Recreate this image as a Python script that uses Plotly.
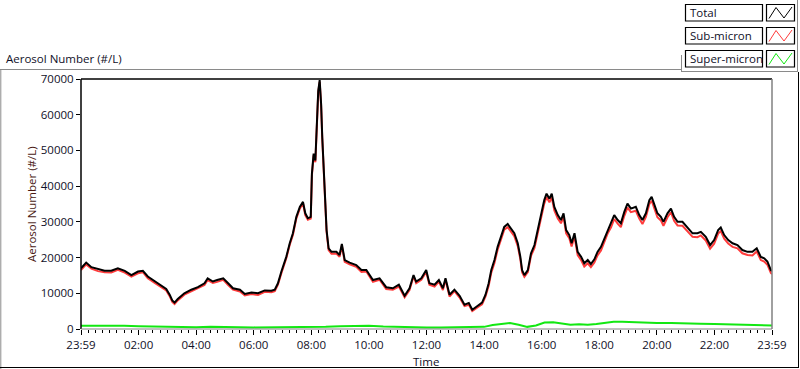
import plotly.graph_objects as go

# ---------------- data ----------------
hours = [0, 0.18, 0.36, 0.59, 0.82, 1.05, 1.28, 1.52, 1.75, 1.98, 2.15, 2.32, 2.56, 2.79, 2.96, 3.08,
         3.17, 3.25, 3.36, 3.59, 3.83, 4.06, 4.29, 4.4, 4.58, 4.73, 4.94, 5.11, 5.28, 5.52, 5.69, 5.92,
         6.15, 6.38, 6.61, 6.73, 6.84, 6.96, 7.13, 7.25, 7.36, 7.48, 7.6, 7.71, 7.79, 7.88, 7.98, 8.02,
         8.08, 8.14, 8.19, 8.24, 8.29, 8.34, 8.38, 8.43, 8.49, 8.53, 8.6, 8.7, 8.87, 8.98, 9.06, 9.16,
         9.33, 9.56, 9.74, 9.91, 10.14, 10.37, 10.6, 10.83, 11.04, 11.24, 11.41, 11.55, 11.64, 11.82,
         11.99, 12.1, 12.28, 12.43, 12.57, 12.66, 12.8, 12.97, 13.15, 13.32, 13.47, 13.59, 13.78, 13.93,
         14.05, 14.16, 14.25, 14.36, 14.47, 14.59, 14.7, 14.82, 14.94, 15.05, 15.17, 15.26, 15.32, 15.4,
         15.52, 15.63, 15.75, 15.86, 15.98, 16.09, 16.17, 16.27, 16.35, 16.44, 16.56, 16.67, 16.76,
         16.85, 16.96, 17.04, 17.14, 17.25, 17.37, 17.48, 17.6, 17.71, 17.83, 17.94, 18.06, 18.18,
         18.29, 18.41, 18.52, 18.64, 18.75, 18.87, 18.98, 19.1, 19.27, 19.39, 19.5, 19.62, 19.74, 19.82,
         19.91, 20.02, 20.14, 20.23, 20.37, 20.49, 20.6, 20.72, 20.89, 21.07, 21.24, 21.41, 21.53, 21.7,
         21.85, 21.99, 22.13, 22.22, 22.34, 22.48, 22.63, 22.8, 22.97, 23.15, 23.32, 23.47, 23.61,
         23.73, 23.84, 23.96, 24.0]

total = [17000, 18600, 17300, 16700, 16300, 16300, 17000, 16300, 15100, 16100, 16300, 14700, 13300,
         12100, 11200, 9600, 8000, 7400, 8400, 10000, 11000, 11700, 12800, 14200, 13300, 13700, 14200,
         12800, 11400, 11000, 9800, 10200, 10000, 10800, 10700, 11000, 12800, 16100, 20200, 24000, 26800,
         31400, 34200, 35600, 32400, 31000, 31400, 43500, 49100, 47200, 55600, 66700, 69700, 63000, 53700,
         44400, 37000, 27700, 22600, 21600, 21600, 20700, 23800, 19300, 18600, 17900, 16500, 16500, 13700,
         14200, 11700, 11400, 12400, 9300, 11400, 15100, 13300, 14200, 16500, 12800, 12400, 13700, 11400,
         14200, 9600, 11000, 9300, 6800, 7300, 5400, 6500, 7400, 9600, 12800, 16500, 19300, 23000, 25800,
         28600, 29400, 28200, 26800, 24000, 20200, 16500, 15100, 16500, 21200, 23500, 27700, 32400, 36100,
         37900, 36500, 37900, 34200, 31900, 30500, 32400, 27700, 26300, 24000, 26800, 21600, 20200, 18400,
         19300, 18200, 19500, 21600, 23000, 25400, 27700, 29600, 31900, 30500, 29600, 32800, 35100, 33700,
         34200, 31900, 30500, 32400, 36100, 37000, 34700, 32400, 31400, 30000, 32400, 33700, 31400, 30000,
         30000, 28200, 26800, 26800, 27200, 25800, 23500, 24900, 27700, 28400, 26300, 24900, 24000, 23500,
         22100, 21600, 21600, 22600, 20200, 19800, 18900, 16500, 16200]

sub_micron = [16500, 18100, 16900, 16200, 15900, 15800, 16600, 15800, 14700, 15600, 15900, 14200, 12900,
              11600, 10800, 9200, 7600, 7000, 8000, 9600, 10500, 11300, 12300, 13700, 12900, 13200, 13800,
              12300, 11000, 10500, 9400, 9800, 9500, 10400, 10300, 10600, 12400, 15600, 19800, 23600, 26300,
              31000, 33700, 35200, 31900, 30600, 30900, 43000, 48600, 46700, 55100, 66200, 69200, 62500,
              53200, 43900, 36500, 27200, 22100, 21100, 21100, 20200, 23300, 18800, 18100, 17400, 16000,
              16100, 13200, 13800, 11200, 11000, 11900, 8900, 10900, 14700, 12800, 13800, 16000, 12400,
              11900, 13300, 10900, 13800, 9100, 10600, 8800, 6400, 6800, 5000, 6100, 6900, 9100, 12100,
              15800, 18500, 22200, 25000, 27800, 28500, 27300, 26000, 23200, 19500, 15900, 14600, 15900,
              20500, 22700, 26800, 31500, 35100, 36900, 35500, 36900, 33200, 30900, 29600, 31400, 26800,
              25400, 23100, 25900, 20700, 19300, 17500, 18400, 17300, 18600, 20600, 22000, 24400, 26700,
              28500, 30800, 29500, 28500, 31700, 34000, 32700, 33100, 30900, 29400, 31400, 35000, 35900,
              33700, 31300, 30400, 28900, 31300, 32700, 30300, 29000, 28900, 27200, 25800, 25700, 26200,
              24800, 22500, 23900, 26700, 27400, 25300, 23900, 23000, 22600, 21200, 20700, 20600, 21700,
              19300, 18900, 18000, 15700, 15400]

super_hours = [0, 0.5, 1, 1.5, 2, 2.5, 3, 3.5, 4, 4.5, 5, 5.5, 6, 6.5, 7, 7.5, 8, 8.5, 9, 9.5, 10, 10.5,
               11, 11.5, 12, 12.5, 13, 13.5, 14, 14.3, 14.6, 14.9, 15.2, 15.5, 15.8, 16.1, 16.4, 16.7,
               17.0, 17.3, 17.6, 17.9, 18.2, 18.5, 18.8, 19.1, 19.5, 20, 20.5, 21, 21.5, 22, 22.5, 23,
               23.5, 24]
super_micron = [900, 950, 850, 900, 800, 700, 600, 450, 500, 600, 650, 500, 450, 450, 450, 500, 550, 600,
                750, 850, 900, 700, 550, 500, 450, 450, 450, 400, 600, 1100, 1500, 1700, 1200, 600, 1000,
                1800, 1900, 1500, 1200, 1300, 1200, 1400, 1700, 2000, 2000, 1900, 1800, 1700, 1700, 1500,
                1500, 1400, 1300, 1200, 1100, 1000]

x_tickvals = [0, 2, 4, 6, 8, 10, 12, 14, 16, 18, 20, 22, 24]
x_ticktext = ["23:59", "02:00", "04:00", "06:00", "08:00", "10:00", "12:00", "14:00", "16:00",
              "18:00", "20:00", "22:00", "23:59"]
y_tickvals = [0, 10000, 20000, 30000, 40000, 50000, 60000, 70000]

series_names = ["Total", "Sub-micron", "Super-micron"]
series_colors = ["#000000", "#ff3b3b", "#12e812"]

# ---------------- layout geometry (pixels) ----------------
W, H = 800, 369
PL, PR, PT, PB = 81, 772, 79, 329  # plot area edges
FONT = "Open Sans"
TXT = "#101028"


def X(px):
    return (px - PL) / (PR - PL)


def Y(py):
    return (PB - py) / (PB - PT)


fig = go.Figure()
fig.add_trace(go.Scatter(x=super_hours, y=super_micron, mode="lines", name=series_names[2],
                         line=dict(color=series_colors[2], width=2), showlegend=False))
fig.add_trace(go.Scatter(x=hours, y=sub_micron, mode="lines", name=series_names[1],
                         line=dict(color=series_colors[1], width=2), showlegend=False))
fig.add_trace(go.Scatter(x=hours, y=total, mode="lines", name=series_names[0],
                         line=dict(color=series_colors[0], width=2), showlegend=False))

shapes = []


def line(x0, y0, x1, y1, color, width=1):
    shapes.append(dict(type="line", xref="paper", yref="paper", x0=X(x0), y0=Y(y0), x1=X(x1), y1=Y(y1),
                       line=dict(color=color, width=width), layer="above"))


# plot-area border: black left/top, grey right/bottom
line(PL, PT, PL, PB, "#000000", 1.5)
line(PL, PT, PR, PT, "#000000", 1.5)
line(PR, PT, PR, PB, "#808080", 1.5)
line(PL, PB, PR, PB, "#808080", 1)

# outer frame
line(0, 69.5, 681, 69.5, "#8a8a8a")
line(0.8, 69.5, 0.8, 369, "#8a8a8a")
line(681.5, 55, 681.5, 72, "#8a8a8a")
line(681.5, 71.5, 797, 71.5, "#8a8a8a")
line(797.5, 0, 797.5, 72, "#8a8a8a")
line(798.5, 72, 798.5, 368, "#000000")
line(0, 367.5, 799, 367.5, "#000000")

annotations = []
# legend (LabVIEW style boxes)
rows = [(4.5, 21), (27.5, 44), (50.5, 67)]
for (top, bot), name, col in zip(rows, series_names, series_colors):
    shapes.append(dict(type="rect", xref="paper", yref="paper", x0=X(685.5), x1=X(762.5),
                       y0=Y(bot), y1=Y(top), line=dict(color="#000000", width=1.2),
                       fillcolor="#ffffff", layer="above"))
    shapes.append(dict(type="rect", xref="paper", yref="paper", x0=X(766.5), x1=X(794.5),
                       y0=Y(bot), y1=Y(top), line=dict(color="#000000", width=1.2),
                       fillcolor="#ffffff", layer="above"))
    pts = [(769, bot - 2.5), (776, top + 3), (784, bot - 3), (792, top + 2.5)]
    path = "M " + " L ".join(f"{X(a)},{Y(b)}" for a, b in pts)
    shapes.append(dict(type="path", xref="paper", yref="paper", path=path,
                       line=dict(color=col, width=1), layer="above"))
    annotations.append(dict(text=name, xref="paper", yref="paper", x=X(688), y=Y((top + bot) / 2),
                            xanchor="left", yanchor="middle", showarrow=False,
                            font=dict(family=FONT, size=11.5, color=TXT)))

# texts
annotations.append(dict(text="Aerosol Number (#/L)", xref="paper", yref="paper", x=X(4), y=Y(59),
                        xanchor="left", yanchor="middle", showarrow=False,
                        font=dict(family=FONT, size=11.5, color=TXT)))
annotations.append(dict(text="Aerosol Number (#/L)", xref="paper", yref="paper", x=X(31), y=Y(204),
                        xanchor="center", yanchor="middle", showarrow=False, textangle=-90,
                        font=dict(family=FONT, size=11.5, color="#4a1a14")))
annotations.append(dict(text="Time", xref="paper", yref="paper", x=X(426), y=Y(361),
                        xanchor="center", yanchor="middle", showarrow=False,
                        font=dict(family=FONT, size=11.5, color=TXT)))

fig.update_layout(
    width=W, height=H, autosize=False,
    margin=dict(l=PL, r=W - PR, t=PT, b=H - PB, pad=0),
    paper_bgcolor="#ffffff", plot_bgcolor="#ffffff",
    showlegend=False, hovermode=False,
    shapes=shapes, annotations=annotations,
    xaxis=dict(range=[0, 24], tickvals=x_tickvals, ticktext=x_ticktext, ticks="outside",
               ticklen=5, tickcolor="#000000", showgrid=False, zeroline=False, showline=False,
               tickfont=dict(family=FONT, size=11.5, color=TXT),
               minor=dict(dtick=0.25, tick0=0, ticks="outside", ticklen=3, tickcolor="#000000",
                          showgrid=False)),
    yaxis=dict(range=[0, 70000], tickvals=y_tickvals, tickformat="d", ticks="outside", ticklen=4,
               tickcolor="#000000", showgrid=False, zeroline=False, showline=False,
               tickfont=dict(family=FONT, size=11.5, color=TXT)),
)

fig.write_html("out.html", config={"displayModeBar": False},
               post_script="document.body.style.margin='0';document.body.style.overflow='hidden';")
